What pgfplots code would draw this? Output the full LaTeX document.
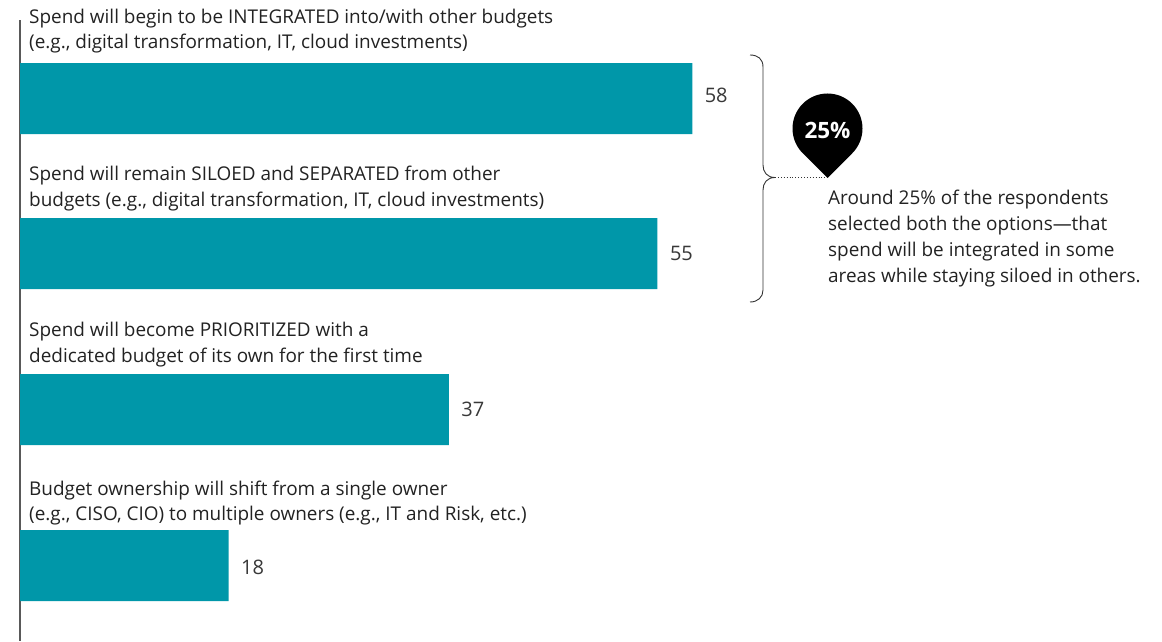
\documentclass[border=0pt]{standalone}
\usepackage{pgfplots}
\pgfplotsset{compat=1.18}
\usepackage{fontspec}
\setmainfont{Open Sans}
\definecolor{teal}{HTML}{0097A9}
\definecolor{ink}{HTML}{222222}
\newcommand{\bodyfont}{\fontsize{18.93pt}{25pt}\selectfont}
\newcommand{\valfont}{\fontsize{20pt}{25pt}\selectfont}
\begin{document}
\begin{tikzpicture}[every node/.append style={font=\bodyfont}]
\path[use as bounding box] (-20pt,0pt) rectangle (1142pt,641pt);
\begin{axis}[
  at={(0pt,0pt)}, anchor=south west, scale only axis,
  width=1142pt, height=621pt,
  xmin=0, xmax=98.53, ymin=20, ymax=641, y dir=reverse,
  axis x line=none, axis y line=left,
  y axis line style={-, draw=black!65, line width=1.4pt},
  ytick=\empty, xtick=\empty,
  xbar, bar width=71pt,
  clip=false,
  /pgf/number format/assume math mode=true,
  nodes near coords, nodes near coords align={horizontal},
  every node near coord/.append style={text=ink!90, xshift=9pt, font=\valfont},
  coordinate style/.condition={\coordindex==0}{yshift=3pt},
  coordinate style/.condition={\coordindex==3}{yshift=-1.5pt},
]
\addplot[fill=teal, draw=none] coordinates {(58,98.5) (55,253.5) (37,409.5) (18,565.5)};
\end{axis}
\begin{scope}[x=1pt,y=-1pt,shift={(-20pt,641pt)}]
  \tikzset{lab/.style={anchor=base west, inner sep=0pt, text=ink}}
  \node[lab] at (29,24) {Spend will begin to be INTEGRATED into/with other budgets};
  \node[lab] at (29,49) {(e.g., digital transformation, IT, cloud investments)};
  \node[lab] at (29,181) {Spend will remain SILOED and SEPARATED from other};
  \node[lab] at (29,207) {budgets (e.g., digital transformation, IT, cloud investments)};
  \node[lab] at (29,336) {Spend will become PRIORITIZED with a};
  \node[lab] at (29,362) {dedicated budget of its own for the first time};
  \node[lab] at (29,495) {Budget ownership will shift from a single owner};
  \node[lab] at (29,520) {(e.g., CISO, CIO) to multiple owners (e.g., IT and Risk, etc.)};
  \node[lab] at (828,205) {Around 25\% of the respondents};
  \node[lab] at (828,231) {selected both the options—that};
  \node[lab] at (828,257) {spend will be integrated in some};
  \node[lab] at (828,282) {areas while staying siloed in others.};
  \draw[black!80, line width=0.9pt] (750,55) .. controls (758,55) and (763,59) .. (763,67)
     -- (763,165) .. controls (763,172) and (767,177.5) .. (775,177.5)
     .. controls (767,177.5) and (763,183) .. (763,190)
     -- (763,290) .. controls (763,297) and (758,302) .. (750,302);
  \draw[black!80, line width=0.9pt, dotted] (775,177.5) -- (827,177.5);
  \fill[black] (827.5,178) -- (802.75,153.25) arc[start angle=135, end angle=405, radius=35] -- cycle;
  \node[text=white, inner sep=0pt, font={\fontsize{22.5pt}{27pt}\selectfont\bfseries}] at (827.5,130) {25\%};
\end{scope}
\end{tikzpicture}
\end{document}
